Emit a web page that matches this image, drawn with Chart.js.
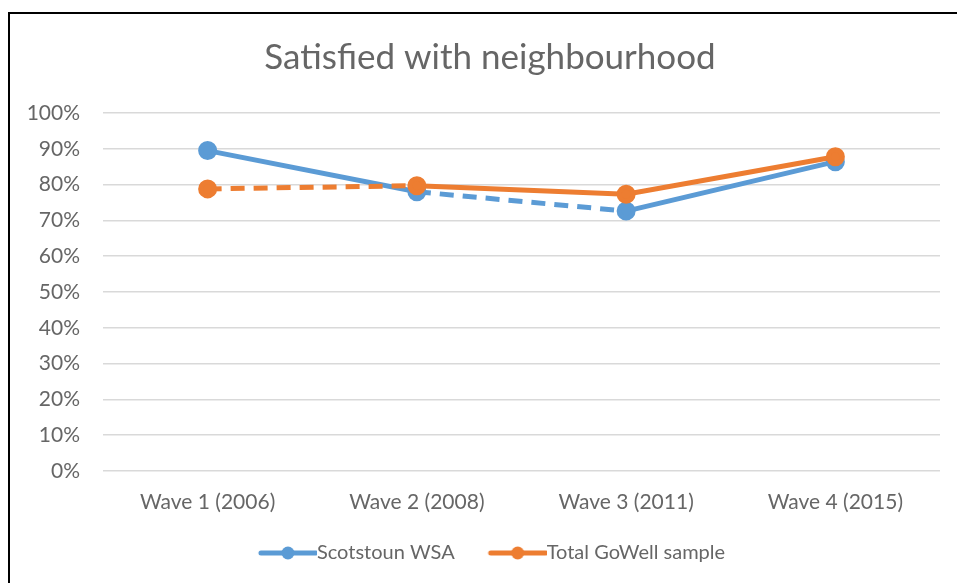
<!DOCTYPE html>
<html>
<head>
<meta charset="utf-8">
<script src="https://cdn.jsdelivr.net/npm/chart.js@4/dist/chart.umd.min.js"></script>
<style>
  body { margin: 0; background: #fff; }
  #frame { position: absolute; left: 8px; top: 12px; width: 960px; height: 580px;
           border-left: 2px solid #000; border-top: 2px solid #000; }
  #wrap { position: absolute; left: 0; top: 0; width: 957px; height: 583px; }
</style>
</head>
<body>
<div id="frame"></div>
<div id="wrap"><canvas id="chart"></canvas></div>
<script>
// data
const waves = ["Wave 1 (2006)", "Wave 2 (2008)", "Wave 3 (2011)", "Wave 4 (2015)"];
const scotstoun = [89.5, 78, 72.6, 86.4];
const goWell = [78.8, 79.7, 77.3, 87.8];
const blue = "#5B9BD5";
const orange = "#ED7D31";
const grey = "#666666";

// legend marker: line with a dot in the middle (left part transparent = gap between items)
function marker(color) {
  const c = document.createElement("canvas");
  c.width = 92; c.height = 14;
  const g = c.getContext("2d");
  g.strokeStyle = color; g.lineWidth = 5; g.lineCap = "round";
  g.beginPath(); g.moveTo(36, 7); g.lineTo(91, 7); g.stroke();
  g.fillStyle = color;
  g.beginPath(); g.arc(63, 7, 6.5, 0, Math.PI * 2); g.fill();
  return c;
}

// nudge the title a bit to the right, like the original
const shiftTitle = {
  id: "shiftTitle",
  afterLayout(chart) {
    if (chart.titleBlock) chart.titleBlock.left += 20;
  },
};

const ctx = document.getElementById("chart").getContext("2d");
new Chart(ctx, {
  type: "line",
  data: {
    labels: waves,
    datasets: [
      {
        label: "Scotstoun WSA",
        data: scotstoun,
        borderColor: blue,
        backgroundColor: blue,
        borderWidth: 5,
        pointRadius: 7,
        pointHoverRadius: 7,
        segment: { borderDash: s => (s.p0DataIndex === 1 ? [14, 9] : undefined) },
        order: 1,
      },
      {
        label: "Total GoWell sample",
        data: goWell,
        borderColor: orange,
        backgroundColor: orange,
        borderWidth: 5,
        pointRadius: 7,
        pointHoverRadius: 7,
        segment: { borderDash: s => (s.p0DataIndex === 0 ? [14, 9] : undefined) },
        order: 0,
      },
    ],
  },
  plugins: [shiftTitle],
  options: {
    responsive: true,
    maintainAspectRatio: false,
    animation: false,
    layout: { padding: { left: 20, right: 17, top: 0, bottom: 10 } },
    plugins: {
      title: {
        display: true,
        text: "Satisfied with neighbourhood",
        color: grey,
        font: { family: "Lato", size: 35, weight: "normal" },
        padding: { top: 37, bottom: 34 },
      },
      legend: {
        position: "bottom",
        labels: {
          usePointStyle: true,
          pointStyleWidth: 72,
          generateLabels: chart => chart.data.datasets.map((d, i) => ({
            text: d.label,
            pointStyle: marker(d.borderColor),
            fontColor: grey,
            lineWidth: 0,
            datasetIndex: i,
          })),
          color: grey,
          font: { family: "Lato", size: 20 },
          padding: 10,
        },
      },
      tooltip: { enabled: false },
    },
    scales: {
      x: {
        offset: true,
        grid: { display: false },
        border: { display: false },
        ticks: { color: grey, font: { family: "Lato", size: 21 }, padding: 11 },
        afterFit: s => { s.height = 62; },
      },
      y: {
        min: 0,
        max: 100,
        ticks: {
          stepSize: 10,
          color: grey,
          font: { family: "Lato", size: 21 },
          padding: 23,
          callback: v => v + "%",
        },
        grid: { color: "#D9D9D9", lineWidth: 1.5, drawTicks: false },
        border: { display: false },
        afterFit: s => { s.width = 83; },
      },
    },
  },
});
</script>
</body>
</html>
